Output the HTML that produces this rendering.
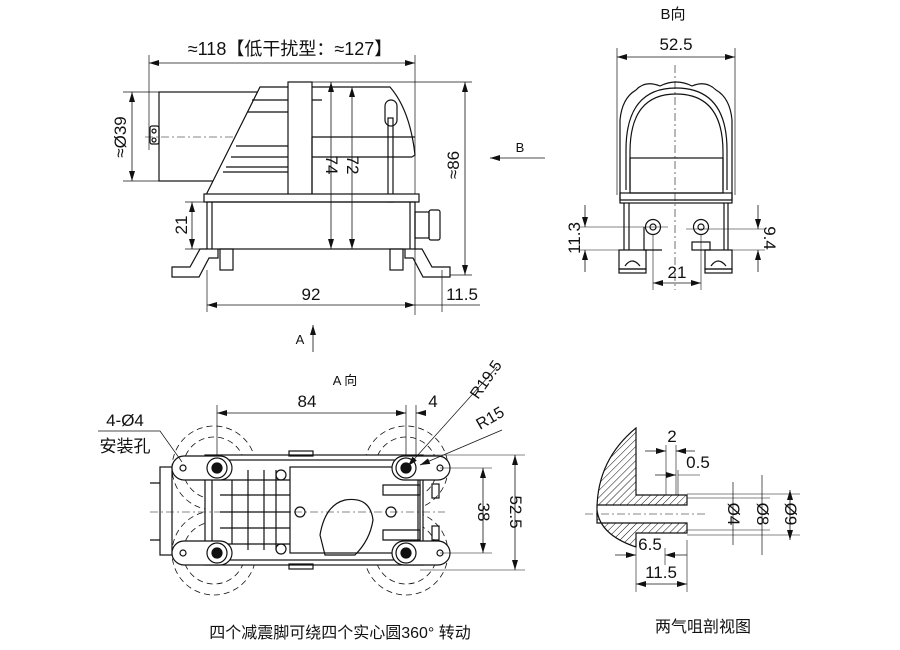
<!DOCTYPE html>
<html><head><meta charset="utf-8"><style>
html,body{margin:0;padding:0;background:#fff}
svg{display:block}
text{font-family:"Liberation Sans Narrow","Liberation Sans","Noto Sans CJK SC",sans-serif;fill:#111}
</style></head><body>
<svg width="900" height="650" viewBox="0 0 900 650" xmlns="http://www.w3.org/2000/svg">
<defs>
<marker id="a" viewBox="0 0 10 6" refX="10" refY="3" markerWidth="10" markerHeight="6" orient="auto-start-reverse" markerUnits="userSpaceOnUse"><path d="M0,0L10,3L0,6z" fill="#111"/></marker>
<pattern id="h" width="5" height="5" patternUnits="userSpaceOnUse" patternTransform="rotate(45)"><line x1="0" y1="0" x2="0" y2="5" stroke="#111" stroke-width="1"/></pattern>
</defs>
<g stroke="#111" stroke-width="1.2" fill="none">
<!-- SIDE VIEW -->
<line x1="149" y1="63" x2="415" y2="63" marker-start="url(#a)" marker-end="url(#a)" stroke-width="0.8"/>
<line x1="149" y1="55" x2="149" y2="150" stroke-width="0.7"/>
<line x1="415" y1="55" x2="415" y2="315" stroke-width="0.7"/>
<rect x="159" y="92" width="100" height="89"/>
<line x1="123" y1="92" x2="159" y2="92" stroke-width="0.7"/>
<line x1="123" y1="181" x2="159" y2="181" stroke-width="0.7"/>
<line x1="132" y1="92" x2="132" y2="181" marker-start="url(#a)" marker-end="url(#a)" stroke-width="0.8"/>
<rect x="150" y="126" width="9" height="18" rx="2"/>
<circle cx="154" cy="131" r="2"/><circle cx="154" cy="140" r="2"/>
<line x1="145" y1="137" x2="250" y2="137" stroke-dasharray="8 3 2 3" stroke-width="0.6"/>
<path d="M206,195 L260,87 L390,87 Q410,110 415,155 L412,157" fill="#fff"/>
<rect x="288" y="82" width="24" height="113" fill="#fff"/>
<path d="M252,100H288M248,112H288M236,146H288M231,157H288M226,167H288M223,172H288"/>
<path d="M312,137H415M312,157H412M312,137V195M312,100H322"/>
<rect x="385" y="100" width="12" height="26" rx="6"/>
<rect x="388" y="118" width="5" height="84"/>
<rect x="204" y="194" width="215" height="8" fill="#fff"/>
<rect x="207" y="202" width="208" height="47"/>
<line x1="212" y1="202" x2="212" y2="249"/>
<line x1="410" y1="202" x2="410" y2="249"/>
<path d="M207,249L200,249L190,267L172,267L172,277L199,277L209,258L218,258L218,249"/>
<rect x="220" y="249" width="13" height="21"/>
<path d="M415,249L422,249L432,267L450,267L450,277L423,277L413,258L405,258L405,249"/>
<rect x="390" y="249" width="13" height="21"/>
<rect x="415" y="212" width="14" height="26"/><rect x="429" y="210" width="11" height="30" rx="2"/>
<line x1="331" y1="82" x2="331" y2="249" marker-start="url(#a)" marker-end="url(#a)" stroke-width="0.8"/>
<line x1="352" y1="87" x2="352" y2="249" marker-start="url(#a)" marker-end="url(#a)" stroke-width="0.8"/>
<line x1="312" y1="82" x2="472" y2="82" stroke-width="0.7"/>
<line x1="450" y1="275" x2="472" y2="275" stroke-width="0.7"/>
<line x1="465" y1="82" x2="465" y2="275" marker-start="url(#a)" marker-end="url(#a)" stroke-width="0.8"/>
<line x1="185" y1="202" x2="207" y2="202" stroke-width="0.7"/>
<line x1="185" y1="249" x2="207" y2="249" stroke-width="0.7"/>
<line x1="192" y1="202" x2="192" y2="249" marker-start="url(#a)" marker-end="url(#a)" stroke-width="0.8"/>
<line x1="207" y1="270" x2="207" y2="312" stroke-width="0.7"/>
<line x1="442" y1="270" x2="442" y2="312" stroke-width="0.7"/>
<line x1="207" y1="305" x2="415" y2="305" marker-start="url(#a)" marker-end="url(#a)" stroke-width="0.8"/>
<line x1="415" y1="305" x2="480" y2="305" stroke-width="0.7"/>
<line x1="490" y1="158" x2="545" y2="158" marker-start="url(#a)" stroke-width="0.8"/>
<line x1="313" y1="325" x2="313" y2="352" marker-start="url(#a)" stroke-width="0.8"/>
<!-- B VIEW -->
<line x1="617" y1="57" x2="735" y2="57" marker-start="url(#a)" marker-end="url(#a)" stroke-width="0.8"/>
<line x1="617" y1="48" x2="617" y2="195" stroke-width="0.7"/>
<line x1="735" y1="48" x2="735" y2="195" stroke-width="0.7"/>
<line x1="675" y1="65" x2="675" y2="290" stroke-dasharray="8 3 2 3" stroke-width="0.6"/>
<path d="M620,200 L620,120 Q622,98 636,90 Q645,80 660,86 Q676,78 692,86 Q706,80 716,90 Q730,98 732,120 L732,200 Z"/>
<path d="M626,190 L626,150 Q626,88 676,88 Q727,88 727,150 L727,190"/>
<path d="M630,190 L630,152 Q630,94 676,94 Q723,94 723,152 L723,190"/>
<rect x="630" y="158" width="93" height="35"/>
<rect x="620" y="193" width="112" height="10"/>
<path d="M624,203V250M629,203V250M724,203V250M728,203V250"/>
<path d="M644,227V250H662"/>
<circle cx="653" cy="227" r="7.5"/><circle cx="653" cy="227" r="3"/>
<circle cx="701" cy="227" r="7.5"/><circle cx="701" cy="227" r="3"/>
<rect x="692" y="242" width="18" height="8"/>
<rect x="619" y="250" width="27" height="19"/><rect x="619" y="269" width="27" height="4"/>
<rect x="705" y="250" width="27" height="19"/><rect x="705" y="269" width="27" height="4"/>
<path d="M625,266Q632,256 640,266M711,266Q718,256 726,266"/>
<line x1="580" y1="227" x2="668" y2="227" stroke-width="0.6"/>
<line x1="580" y1="250" x2="620" y2="250" stroke-width="0.6"/>
<line x1="686" y1="229" x2="765" y2="229" stroke-width="0.6"/>
<line x1="732" y1="250" x2="765" y2="250" stroke-width="0.6"/>
<line x1="585" y1="205" x2="585" y2="227" marker-end="url(#a)" stroke-width="0.8"/>
<line x1="585" y1="272" x2="585" y2="250" marker-end="url(#a)" stroke-width="0.8"/>
<line x1="758" y1="205" x2="758" y2="229" marker-end="url(#a)" stroke-width="0.8"/>
<line x1="758" y1="272" x2="758" y2="250" marker-end="url(#a)" stroke-width="0.8"/>
<line x1="653" y1="235" x2="653" y2="290" stroke-width="0.6"/>
<line x1="701" y1="235" x2="701" y2="290" stroke-width="0.6"/>
<line x1="653" y1="283" x2="701" y2="283" marker-start="url(#a)" marker-end="url(#a)" stroke-width="0.8"/>
<!-- A VIEW -->
<g stroke-dasharray="6 4" stroke-width="0.8">
<circle cx="214" cy="468" r="42"/><circle cx="214" cy="468" r="31"/>
<circle cx="214" cy="553" r="42"/><circle cx="214" cy="553" r="31"/>
<circle cx="406" cy="468" r="42"/><circle cx="406" cy="468" r="31"/>
<circle cx="406" cy="553" r="42"/><circle cx="406" cy="553" r="31"/>
</g>
<line x1="217" y1="405" x2="217" y2="470" stroke-width="0.7"/>
<line x1="406" y1="405" x2="406" y2="470" stroke-width="0.7"/>
<line x1="416" y1="405" x2="416" y2="470" stroke-width="0.7"/>
<line x1="217" y1="413" x2="406" y2="413" marker-start="url(#a)" marker-end="url(#a)" stroke-width="0.8"/>
<line x1="426" y1="413" x2="416" y2="413" marker-end="url(#a)" stroke-width="0.8"/>
<rect x="160" y="467" width="12" height="88"/>
<path d="M150,483H160M150,540H160"/>
<rect x="205" y="455" width="218" height="110" fill="#fff"/>
<rect x="212" y="460" width="206" height="100"/>
<rect x="290" y="467" width="130" height="86"/>
<rect x="289" y="451" width="24" height="5"/><rect x="289" y="564" width="24" height="5"/>
<path d="M220,480H290M220,495H290M220,512H290M220,528H290M220,544H290M232,480V544M248,470V550M264,470V550M276,470V550"/>
<path d="M320,535Q325,505 345,500Q370,496 373,520Q370,540 355,555H325Z"/>
<rect x="172" y="456" width="60" height="24" rx="12" fill="#fff"/>
<rect x="172" y="541" width="60" height="24" rx="12" fill="#fff"/>
<rect x="392" y="456" width="58" height="24" rx="12" fill="#fff"/>
<rect x="392" y="541" width="58" height="24" rx="12" fill="#fff"/>
<circle cx="183" cy="468" r="3"/><circle cx="183" cy="553" r="3"/>
<circle cx="440" cy="468" r="3"/><circle cx="440" cy="553" r="3"/>
<circle cx="217" cy="468" r="10" fill="#fff"/><circle cx="217" cy="553" r="10" fill="#fff"/>
<circle cx="406" cy="468" r="10" fill="#fff"/><circle cx="406" cy="553" r="10" fill="#fff"/>
<g fill="#111"><circle cx="217" cy="468" r="5"/><circle cx="217" cy="553" r="5"/><circle cx="406" cy="468" r="5"/><circle cx="406" cy="553" r="5"/></g>
<circle cx="281" cy="475" r="5"/><circle cx="281" cy="549" r="5"/><circle cx="300" cy="512" r="5"/><circle cx="391" cy="512" r="5"/>
<path d="M383,485H420V495H383ZM383,530H420V540H383Z"/>
<rect x="432" y="484" width="7" height="14"/><rect x="432" y="526" width="7" height="14"/>
<line x1="150" y1="512" x2="445" y2="512" stroke-dasharray="8 3 2 3" stroke-width="0.6"/>
<line x1="420" y1="455" x2="525" y2="455" stroke-width="0.6"/>
<line x1="420" y1="570" x2="525" y2="570" stroke-width="0.6"/>
<line x1="440" y1="468" x2="492" y2="468" stroke-width="0.6"/>
<line x1="440" y1="553" x2="492" y2="553" stroke-width="0.6"/>
<line x1="483" y1="468" x2="483" y2="553" marker-start="url(#a)" marker-end="url(#a)" stroke-width="0.8"/>
<line x1="515" y1="455" x2="515" y2="570" marker-start="url(#a)" marker-end="url(#a)" stroke-width="0.8"/>
<line x1="497" y1="367" x2="408" y2="466" marker-end="url(#a)" stroke-width="0.7"/>
<line x1="502" y1="430" x2="420" y2="465" marker-end="url(#a)" stroke-width="0.7"/>
<path d="M98,431H160L182,462" stroke-width="0.7"/>
<!-- SECTION VIEW -->
<path d="M636,428 Q597,460 597,510 Q600,535 636,547 L636,533 L687,533 L687,523 L597,523 L597,505 L687,505 L687,495 L636,495 Z" fill="url(#h)"/>
<line x1="585" y1="514" x2="705" y2="514" stroke-dasharray="8 3 2 3" stroke-width="0.6"/>
<path d="M687,494H800M687,498H770M687,530H770M687,535H800" stroke-width="0.6"/>
<line x1="733" y1="482" x2="733" y2="545" stroke-width="0.7"/>
<line x1="762" y1="475" x2="762" y2="555" stroke-width="0.7"/>
<line x1="790" y1="490" x2="790" y2="540" marker-start="url(#a)" marker-end="url(#a)" stroke-width="0.8"/>
<path d="M666,445V495M676,445V495M678,470V495M636,548V592M687,540V592M665,548V565" stroke-width="0.6"/>
<line x1="645" y1="451" x2="666" y2="451" marker-end="url(#a)" stroke-width="0.8"/>
<line x1="695" y1="451" x2="676" y2="451" marker-end="url(#a)" stroke-width="0.8"/>
<line x1="655" y1="475" x2="676" y2="475" marker-end="url(#a)" stroke-width="0.8"/>
<line x1="700" y1="475" x2="678" y2="475" stroke-width="0.6"/>
<line x1="615" y1="555" x2="636" y2="555" marker-end="url(#a)" stroke-width="0.8"/>
<line x1="687" y1="555" x2="665" y2="555" marker-end="url(#a)" stroke-width="0.8"/>
<line x1="636" y1="584" x2="687" y2="584" marker-start="url(#a)" marker-end="url(#a)" stroke-width="0.8"/>
</g>
<g font-size="17">
<text x="290" y="55" text-anchor="middle" font-size="18">≈118【低干扰型：≈127】</text>
<text transform="translate(126,137) rotate(-90)" text-anchor="middle">≈Ø39</text>
<text transform="translate(326,165) rotate(90)" text-anchor="middle">74</text>
<text transform="translate(347,165) rotate(90)" text-anchor="middle">72</text>
<text transform="translate(459,165) rotate(-90)" text-anchor="middle">≈86</text>
<text transform="translate(187,225) rotate(-90)" text-anchor="middle">21</text>
<text x="311" y="300" text-anchor="middle">92</text>
<text x="462" y="300" text-anchor="middle">11.5</text>
<text x="520" y="152" text-anchor="middle" font-size="13">B</text>
<text x="300" y="344" text-anchor="middle" font-size="13">A</text>
<text x="673" y="19" text-anchor="middle" font-size="15">B向</text>
<text x="676" y="50" text-anchor="middle">52.5</text>
<text transform="translate(580,238) rotate(-90)" text-anchor="middle">11.3</text>
<text transform="translate(764,238) rotate(90)" text-anchor="middle">9.4</text>
<text x="677" y="278" text-anchor="middle">21</text>
<text x="345" y="385" text-anchor="middle" font-size="13">A 向</text>
<text x="307" y="407" text-anchor="middle">84</text>
<text x="433" y="407" text-anchor="middle">4</text>
<text transform="translate(478,400) rotate(-55)" font-size="16">R19.5</text>
<text transform="translate(480,430) rotate(-30)" font-size="16">R15</text>
<text x="125" y="426" text-anchor="middle">4-Ø4</text>
<text x="125" y="452" text-anchor="middle">安装孔</text>
<text transform="translate(478,512) rotate(90)" text-anchor="middle">38</text>
<text transform="translate(510,512) rotate(90)" text-anchor="middle">52.5</text>
<text x="340" y="638" text-anchor="middle" font-size="16">四个减震脚可绕四个实心圆360° 转动</text>
<text x="672" y="442" text-anchor="middle">2</text>
<text x="698" y="468" text-anchor="middle">0.5</text>
<text x="650" y="550" text-anchor="middle">6.5</text>
<text x="661" y="578" text-anchor="middle">11.5</text>
<text transform="translate(728,514) rotate(90)" text-anchor="middle">Ø4</text>
<text transform="translate(757,514) rotate(90)" text-anchor="middle">Ø8</text>
<text transform="translate(785,514) rotate(90)" text-anchor="middle">Ø9</text>
<text x="703" y="632" text-anchor="middle" font-size="16">两气咀剖视图</text>
</g>
</svg>
</body></html>
